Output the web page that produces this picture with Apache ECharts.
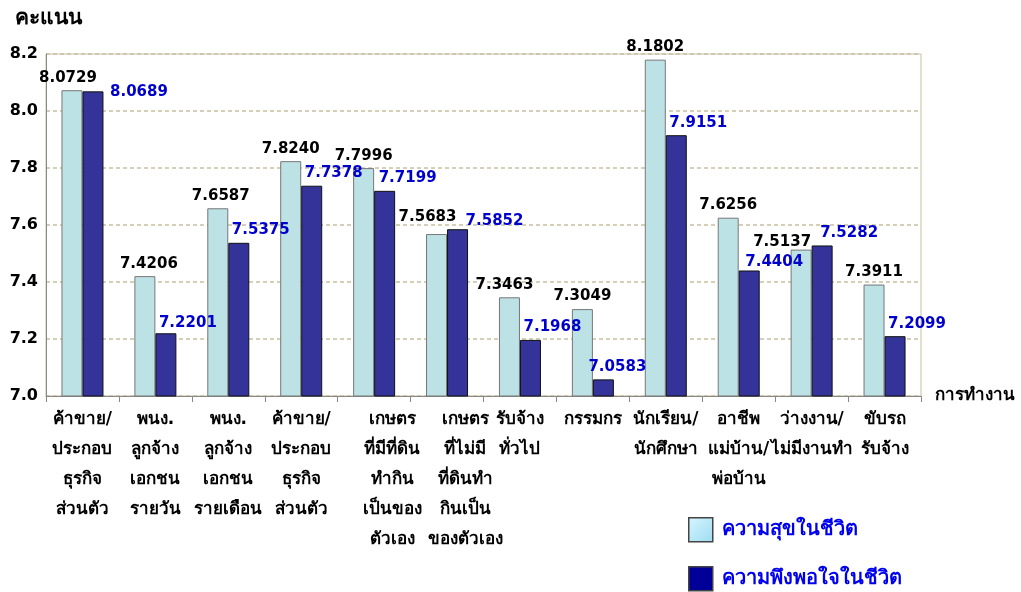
<!DOCTYPE html>
<html lang="th">
<head>
    <meta charset="UTF-8">
    <title>คะแนน</title>
    <script src="https://cdn.jsdelivr.net/npm/echarts@6/dist/echarts.min.js"></script>
</head>
<body style="margin:0">
<div id="chartmain" style="width:1021px; height:592px;"></div>
<script type="text/javascript">
    var categories = [
        'ค้าขาย/\nประกอบ\nธุรกิจ\nส่วนตัว',
        'พนง.\nลูกจ้าง\nเอกชน\nรายวัน',
        'พนง.\nลูกจ้าง\nเอกชน\nรายเดือน',
        'ค้าขาย/\nประกอบ\nธุรกิจ\nส่วนตัว',
        'เกษตร\nที่มีที่ดิน\nทำกิน\nเป็นของ\nตัวเอง',
        'เกษตร\nที่ไม่มี\nที่ดินทำ\nกินเป็น\nของตัวเอง',
        'รับจ้าง\nทั่วไป',
        'กรรมกร',
        'นักเรียน/\nนักศึกษา',
        'อาชีพ\nแม่บ้าน/\nพ่อบ้าน',
        'ว่างงาน/\nไม่มีงานทำ',
        'ขับรถ\nรับจ้าง'
    ];
    var happiness = [8.0729, 7.4206, 7.6587, 7.8240, 7.7996, 7.5683, 7.3463, 7.3049, 8.1802, 7.6256, 7.5137, 7.3911];
    var satisfaction = [8.0689, 7.2201, 7.5375, 7.7378, 7.7199, 7.5852, 7.1968, 7.0583, 7.9151, 7.4404, 7.5282, 7.2099];
    var seriesNames = ['ความสุขในชีวิต', 'ความพึงพอใจในชีวิต'];

    // label nudges so they sit where the original put them
    var shift1 = [[-4, 0], [4, 0], [3, 0], [0, 0], [0, 0], [-9, -4], [-5, 0], [0, 0], [0, 0], [0, 0], [-19, 5], [0, 0]];
    var shift2 = [[46, 13], [22, 2], [22, 0], [22, 0], [23, 0], [37, 4], [22, 0], [14, 0], [22, 0], [25, 4], [27, 0], [22, 0]];

    var catData = categories.map(function (c, i) {
        if (i === 4 || i === 5) {
            return { value: c, textStyle: { padding: [0, 0, 0, 36] } };
        }
        return c;
    });

    function withShift(vals, shifts) {
        return vals.map(function (v, i) {
            return { value: v, label: { offset: shifts[i] } };
        });
    }

    var legendText = { color: '#0000ee', fontSize: 20, fontWeight: 'bold', padding: [0, 0, 0, 4] };

    var myChart = echarts.init(document.getElementById('chartmain'));
    myChart.setOption({
        animation: false,
        textStyle: { fontFamily: 'DejaVu Sans' },
        grid: {
            left: 46, right: 100, top: 54, bottom: 196,
            show: true, borderColor: '#c8c0a0', borderWidth: 1
        },
        legend: [
            {
                left: 688, top: 517, padding: 0,
                itemWidth: 24, itemHeight: 24, itemGap: 10,
                icon: 'rect',
                textStyle: legendText,
                data: [{
                    name: seriesNames[0],
                    itemStyle: {
                        color: new echarts.graphic.LinearGradient(0, 0, 1, 1, [
                            { offset: 0, color: '#d8f6ff' },
                            { offset: 1, color: '#9cdcf0' }
                        ]),
                        borderColor: '#444', borderWidth: 1.5
                    }
                }]
            },
            {
                left: 688, top: 566, padding: 0,
                itemWidth: 24, itemHeight: 24, itemGap: 10,
                icon: 'rect',
                textStyle: legendText,
                data: [{
                    name: seriesNames[1],
                    itemStyle: { color: '#000099', borderColor: '#444', borderWidth: 1.5 }
                }]
            }
        ],
        xAxis: {
            type: 'category',
            data: catData,
            name: 'การทำงาน',
            nameLocation: 'end',
            nameGap: 14,
            nameTextStyle: { color: '#000', fontSize: 17, fontWeight: 'bold', align: 'left', verticalAlign: 'middle' },
            axisLine: { lineStyle: { color: '#888' } },
            axisTick: { show: true, length: 6, lineStyle: { color: '#888' } },
            axisLabel: {
                interval: 0, color: '#000', fontSize: 17, fontWeight: 'bold',
                lineHeight: 30, margin: 9
            }
        },
        yAxis: {
            type: 'value',
            min: 7.0, max: 8.2, interval: 0.2,
            name: 'คะแนน',
            nameLocation: 'end',
            nameGap: 35,
            nameTextStyle: { color: '#000', fontSize: 21, fontWeight: 'bold', align: 'left', verticalAlign: 'middle', padding: [0, 0, 0, -31] },
            axisLine: { show: true, lineStyle: { color: '#888' } },
            axisTick: { show: false },
            axisLabel: {
                color: '#000', fontSize: 16, fontWeight: 'bold', margin: 8,
                formatter: function (v) { return v.toFixed(1); }
            },
            splitLine: { lineStyle: { color: '#c8c0a0', type: [4, 3], width: 1.5 } }
        },
        series: [
            {
                name: seriesNames[0],
                type: 'bar',
                data: withShift(happiness, shift1),
                barWidth: 21,
                barGap: '0%',
                itemStyle: { color: '#bde2e5', borderColor: '#777', borderWidth: 1 },
                label: {
                    show: true, position: 'top', distance: 5,
                    color: '#000', fontSize: 15, fontWeight: 'bold',
                    formatter: function (p) { return p.value.toFixed(4); }
                }
            },
            {
                name: seriesNames[1],
                type: 'bar',
                data: withShift(satisfaction, shift2),
                barWidth: 21,
                itemStyle: { color: '#333399', borderColor: '#111', borderWidth: 1 },
                label: {
                    show: true, position: 'top', distance: 5,
                    color: '#0000cc', fontSize: 15, fontWeight: 'bold',
                    formatter: function (p) { return p.value.toFixed(4); }
                }
            }
        ]
    });
</script>
</body>
</html>
